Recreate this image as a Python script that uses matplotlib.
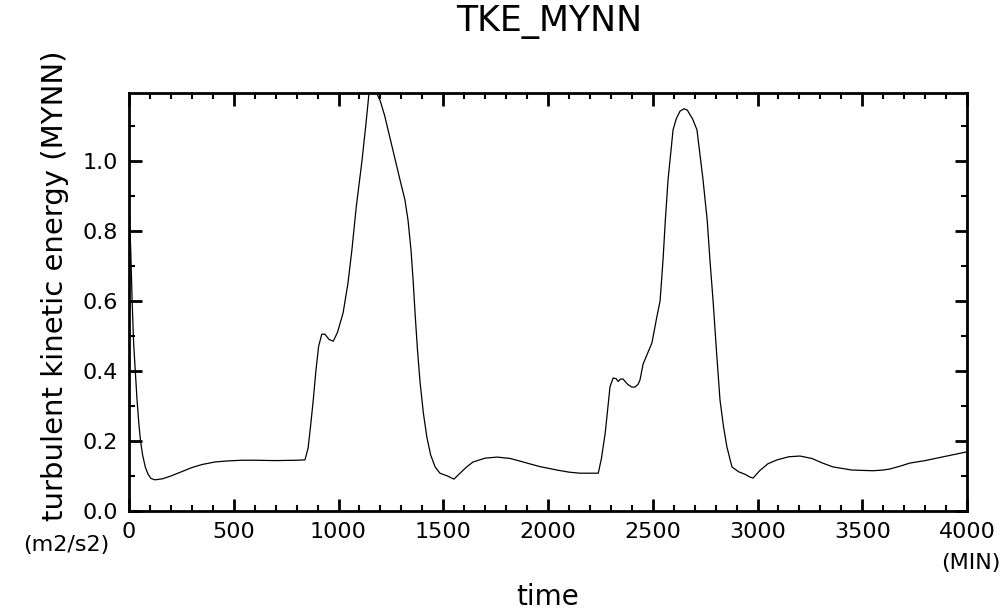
import matplotlib
matplotlib.use("Agg")
import matplotlib.pyplot as plt
from matplotlib.ticker import MultipleLocator

# time (min) and TKE (m2/s2)
time_min = [0, 8, 15, 22, 29, 38, 47, 55, 65, 78, 91, 105, 124, 160, 200, 250,
            300, 350, 410, 470, 539, 600, 700, 800, 840, 855, 868, 880, 892, 905,
            920, 935, 955, 975, 995, 1022, 1045, 1064, 1085, 1112, 1130, 1145,
            1165, 1185, 1200, 1220, 1240, 1260, 1280, 1300, 1317, 1332, 1346,
            1356, 1366, 1377, 1389, 1405, 1422, 1440, 1461, 1484, 1520, 1551,
            1580, 1610, 1642, 1700, 1757, 1820, 1881, 1960, 2043, 2100, 2153,
            2240, 2255, 2273, 2285, 2296, 2311, 2325, 2335, 2346, 2358, 2380,
            2400, 2415, 2430, 2439, 2454, 2475, 2496, 2520, 2535, 2549, 2560,
            2573, 2597, 2612, 2630, 2649, 2665, 2690, 2711, 2740, 2760, 2773,
            2788, 2805, 2821, 2838, 2854, 2878, 2910, 2940, 2964, 2979, 3010,
            3050, 3093, 3150, 3203, 3260, 3310, 3360, 3450, 3551, 3600, 3632,
            3680, 3728, 3800, 3856, 3930, 4000]
tke = [0.88, 0.75, 0.60, 0.48, 0.41, 0.32, 0.25, 0.20, 0.16, 0.125, 0.105, 0.093,
       0.089, 0.092, 0.100, 0.112, 0.124, 0.133, 0.140, 0.143, 0.145, 0.145, 0.144,
       0.145, 0.146, 0.18, 0.25, 0.32, 0.40, 0.47, 0.505, 0.505, 0.49, 0.485, 0.51,
       0.566, 0.65, 0.746, 0.87, 1.00, 1.10, 1.19, 1.205, 1.19, 1.17, 1.13, 1.08,
       1.03, 0.98, 0.93, 0.889, 0.83, 0.746, 0.66, 0.56, 0.46, 0.37, 0.28, 0.21,
       0.16, 0.126, 0.108, 0.100, 0.091, 0.108, 0.125, 0.14, 0.151, 0.154, 0.150,
       0.14, 0.127, 0.117, 0.111, 0.108, 0.108, 0.15, 0.222, 0.29, 0.355, 0.38,
       0.378, 0.37, 0.377, 0.377, 0.362, 0.354, 0.354, 0.362, 0.374, 0.42, 0.45,
       0.48, 0.556, 0.60, 0.717, 0.83, 0.946, 1.089, 1.12, 1.142, 1.149, 1.145,
       1.12, 1.089, 0.946, 0.83, 0.717, 0.60, 0.45, 0.317, 0.24, 0.183, 0.126,
       0.112, 0.105, 0.097, 0.094, 0.115, 0.135, 0.146, 0.155, 0.157, 0.150,
       0.137, 0.126, 0.117, 0.115, 0.117, 0.12, 0.128, 0.137, 0.144, 0.151, 0.16,
       0.169]

W, H = 1008, 614
fig = plt.figure(figsize=(W / 100, H / 100), dpi=100)
ax = fig.add_axes([129 / W, 1 - 511 / H, (967 - 129) / W, (511 - 93) / H])

ax.plot(time_min, tke, color="black", lw=0.9)
ax.set_xlim(0, 4000)
ax.set_ylim(0, 1.194)

ax.xaxis.set_major_locator(MultipleLocator(500))
ax.xaxis.set_minor_locator(MultipleLocator(100))
ax.yaxis.set_major_locator(MultipleLocator(0.2))
ax.yaxis.set_minor_locator(MultipleLocator(0.1))
ax.yaxis.set_major_formatter(plt.FuncFormatter(lambda v, p: f"{v:.1f}"))

ax.tick_params(which="both", direction="in", top=True, right=True, width=2,
               color="black")
ax.tick_params(which="major", length=9, labelsize=16, pad=8)
ax.tick_params(which="minor", length=4, width=1.5)
for s in ax.spines.values():
    s.set_linewidth(2)

# titles and labels
fig.text(549 / W, 1 - 22 / H, "TKE_MYNN", ha="center", va="center", fontsize=25)
fig.text(548 / W, 1 - 597 / H, "time", ha="center", va="center", fontsize=20)
fig.text(55 / W, 1 - 286 / H, "turbulent kinetic energy (MYNN)", rotation=90,
         ha="center", va="center", fontsize=21)
fig.text(66 / W, 1 - 545 / H, "(m2/s2)", ha="center", va="center", fontsize=16)
fig.text(971 / W, 1 - 563 / H, "(MIN)", ha="center", va="center", fontsize=16)

fig.savefig("out.png", dpi=100)
